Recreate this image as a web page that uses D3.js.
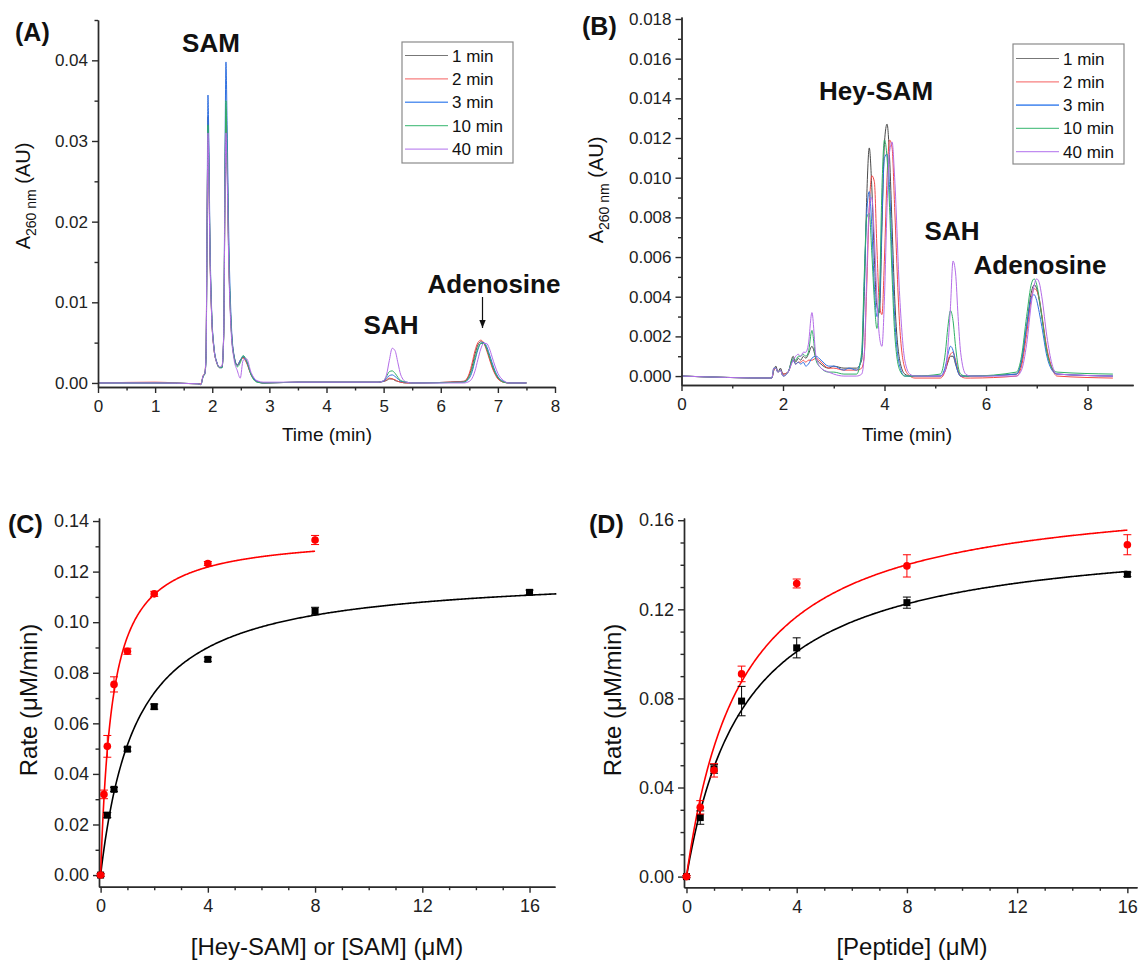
<!DOCTYPE html>
<html><head><meta charset="utf-8">
<script src="https://cdn.jsdelivr.net/npm/d3@7"></script>
<style>body{margin:0;background:#fff}svg{font-family:Arial,"Liberation Sans",sans-serif}</style>
</head><body><svg id="c" width="1140" height="961"></svg>
<script>
// ---------- Panel A: chromatogram (SAM) ----------
const timeA = [0, 1.0, 1.75, 1.8, 1.84, 1.87, 1.89, 1.91, 1.925, 1.94, 1.96, 1.99, 2.03, 2.08, 2.13, 2.17, 2.2, 2.225, 2.24, 2.26, 2.29, 2.33, 2.38, 2.44, 2.49, 2.54, 2.6, 2.68, 2.78, 2.9, 3.5, 4.9, 5.0, 5.05, 5.1, 5.15, 5.2, 5.25, 5.3, 5.4, 5.5, 6.4, 6.5, 6.55, 6.6, 6.65, 6.7, 6.75, 6.8, 6.85, 6.9, 6.95, 7.0, 7.1, 7.2, 7.5];
const a1min = [0, 0, -0.0001, -0.0002, 0.0008, 0.0011, 0.0028, 0.0185, 0.0330, 0.0280, 0.0170, 0.0085, 0.0043, 0.0025, 0.0019, 0.0019, 0.0055, 0.0250, 0.0330, 0.0270, 0.0150, 0.0070, 0.0033, 0.0022, 0.0028, 0.0032, 0.0026, 0.0011, 0.0002, 0.0000, 0.0001,
  0.0001, 0.0002, 0.0003, 0.0005, 0.0005, 0.0003, 0.0002, 0.0001, 0.0000, 0.0000,
  0.0002, 0.0010, 0.0021, 0.0036, 0.0047, 0.0051, 0.0050, 0.0043, 0.0032, 0.0021, 0.0012, 0.0006, 0.0001, 0.0000, 0.0000];
const a2min = [0, 0.0001, -0.0001, -0.0001, 0.0009, 0.0013, 0.0035, 0.0200, 0.0310, 0.0260, 0.0160, 0.0082, 0.0042, 0.0025, 0.0019, 0.0020, 0.0060, 0.0260, 0.0340, 0.0280, 0.0155, 0.0072, 0.0034, 0.0022, 0.0027, 0.0031, 0.0025, 0.0010, 0.0002, 0.0000, 0.0001,
  0.0001, 0.0002, 0.0004, 0.0006, 0.0005, 0.0004, 0.0002, 0.0001, 0.0000, 0.0000,
  0.0002, 0.0012, 0.0025, 0.0040, 0.0050, 0.0053, 0.0050, 0.0041, 0.0030, 0.0019, 0.0011, 0.0005, 0.0001, 0.0000, 0.0000];
const a3min = [0, 0, -0.0001, -0.0002, 0.0008, 0.0012, 0.0030, 0.0210, 0.0357, 0.0300, 0.0180, 0.0090, 0.0045, 0.0026, 0.0019, 0.0019, 0.0060, 0.0300, 0.0398, 0.0320, 0.0180, 0.0080, 0.0035, 0.0022, 0.0028, 0.0033, 0.0027, 0.0011, 0.0002, 0.0000, 0.0001,
  0.0001, 0.0002, 0.0006, 0.0009, 0.0010, 0.0008, 0.0005, 0.0002, 0.0001, 0.0000,
  0.0001, 0.0006, 0.0014, 0.0028, 0.0041, 0.0049, 0.0050, 0.0046, 0.0036, 0.0025, 0.0015, 0.0008, 0.0002, 0.0000, 0.0000];
const a10min = [0, 0, -0.0001, -0.0002, 0.0008, 0.0012, 0.0029, 0.0190, 0.0320, 0.0270, 0.0165, 0.0085, 0.0043, 0.0025, 0.0019, 0.0019, 0.0058, 0.0270, 0.0350, 0.0285, 0.0160, 0.0072, 0.0033, 0.0020, 0.0025, 0.0034, 0.0028, 0.0010, 0.0001, 0.0000, 0.0001,
  0.0001, 0.0003, 0.0008, 0.0014, 0.0015, 0.0012, 0.0007, 0.0003, 0.0001, 0.0000,
  0.0001, 0.0008, 0.0017, 0.0031, 0.0043, 0.0049, 0.0049, 0.0043, 0.0033, 0.0022, 0.0013, 0.0007, 0.0001, 0.0000, 0.0000];
const a40min = [0, 0, -0.0001, -0.0002, 0.0009, 0.0012, 0.0030, 0.0190, 0.0310, 0.0260, 0.0160, 0.0082, 0.0042, 0.0025, 0.0020, 0.0021, 0.0058, 0.0245, 0.0310, 0.0260, 0.0145, 0.0065, 0.0030, 0.0015, 0.0006, 0.0028, 0.0030, 0.0013, 0.0003, 0.0001, 0.0001,
  0.0001, 0.0003, 0.0010, 0.0028, 0.0043, 0.0040, 0.0025, 0.0010, 0.0001, 0.0000,
  0.0000, 0.0002, 0.0006, 0.0015, 0.0029, 0.0042, 0.0049, 0.0049, 0.0043, 0.0032, 0.0021, 0.0012, 0.0003, 0.0000, 0.0000];

// ---------- Panel B: chromatogram (Hey-SAM) ----------
const timeB = [0, 1.78, 1.82, 1.86, 1.9, 1.95, 2.0, 2.1, 2.2, 2.25, 2.3, 2.35, 2.4, 2.45, 2.5, 2.57, 2.65, 2.75, 2.9, 3.0, 3.2, 3.3, 3.45, 3.55, 3.6, 3.65, 3.7, 3.75, 3.8, 3.85, 3.9, 3.95, 4.0, 4.05, 4.1, 4.15, 4.2, 4.3, 4.4, 4.5, 4.6, 5.1, 5.2, 5.25, 5.3, 5.35, 5.4, 5.45, 5.5, 5.6, 5.7, 6.6, 6.7, 6.8, 6.9, 6.95, 7.0, 7.05, 7.1, 7.2, 7.3, 7.4, 8.5];
const b1min = [0.0000, -0.0001, 0.0003, 0.0005, 0.0002, 0.0004, 0.0001, 0.0002, 0.0010, 0.0007,
  0.0009, 0.0008, 0.0010, 0.0009, 0.0011, 0.0015, 0.0009, 0.0006, 0.0004, 0.0005,
  0.0004, 0.0004, 0.0004, 0.0008, 0.0040, 0.0090, 0.0115, 0.0095, 0.0060, 0.0035,
  0.0032, 0.0075, 0.0118, 0.0127, 0.0110, 0.0075, 0.0040, 0.0008, 0.0001, 0.0000,
  0.0000, 0.0000, 0.0003, 0.0007, 0.0010, 0.0010, 0.0006, 0.0002, 0.0000, 0.0000,
  0.0000, 0.0001, 0.0007, 0.0025, 0.0043, 0.0046, 0.0044, 0.0038, 0.0030, 0.0013,
  0.0004, 0.0001, 0.0000];
const b2min = [0.0000, -0.0001, 0.0003, 0.0004, 0.0002, 0.0003, 0.0001, 0.0002, 0.0008, 0.0006,
  0.0007, 0.0007, 0.0008, 0.0007, 0.0008, 0.0008, 0.0009, 0.0007, 0.0004, 0.0004,
  0.0003, 0.0003, 0.0003, 0.0004, 0.0010, 0.0045, 0.0085, 0.0101, 0.0098, 0.0065,
  0.0036, 0.0031, 0.0060, 0.0100, 0.0119, 0.0115, 0.0085, 0.0025, 0.0004, 0.0000,
  -0.0001, -0.0001, 0.0003, 0.0008, 0.0011, 0.0012, 0.0008, 0.0003, 0.0000, -0.0001,
  -0.0001, 0.0000, 0.0005, 0.0021, 0.0040, 0.0044, 0.0043, 0.0039, 0.0031, 0.0014,
  0.0004, 0.0000, -0.0001];
const b3min = [0.0000, -0.0001, 0.0004, 0.0004, 0.0002, 0.0003, 0.0000, 0.0002, 0.0008, 0.0006,
  0.0007, 0.0006, 0.0007, 0.0005, 0.0006, 0.0009, 0.0010, 0.0008, 0.0005, 0.0005,
  0.0003, 0.0004, 0.0003, 0.0010, 0.0045, 0.0082, 0.0093, 0.0075, 0.0045, 0.0030,
  0.0035, 0.0080, 0.0110, 0.0112, 0.0095, 0.0060, 0.0030, 0.0005, 0.0000, 0.0000,
  0.0000, 0.0000, 0.0005, 0.0011, 0.0015, 0.0013, 0.0007, 0.0002, 0.0000, 0.0000,
  0.0000, 0.0001, 0.0008, 0.0025, 0.0040, 0.0041, 0.0038, 0.0032, 0.0025, 0.0010,
  0.0003, 0.0001, 0.0000];
const b10min = [0.0000, -0.0001, 0.0004, 0.0004, 0.0002, 0.0003, 0.0000, 0.0002, 0.0009, 0.0008,
  0.0010, 0.0010, 0.0011, 0.0010, 0.0012, 0.0023, 0.0008, 0.0004, 0.0002, 0.0002,
  0.0001, 0.0001, 0.0001, 0.0012, 0.0050, 0.0080, 0.0082, 0.0062, 0.0038, 0.0024,
  0.0040, 0.0095, 0.0119, 0.0110, 0.0085, 0.0050, 0.0022, 0.0003, 0.0000, 0.0000,
  0.0000, 0.0001, 0.0012, 0.0025, 0.0033, 0.0028, 0.0015, 0.0005, 0.0001, 0.0000,
  0.0000, 0.0002, 0.0010, 0.0030, 0.0047, 0.0049, 0.0046, 0.0039, 0.0030, 0.0012,
  0.0004, 0.0002, 0.0001];
const b40min = [0.0000, -0.0001, 0.0004, 0.0004, 0.0002, 0.0003, 0.0000, 0.0002, 0.0008, 0.0010,
  0.0011, 0.0010, 0.0012, 0.0012, 0.0016, 0.0032, 0.0010, 0.0004, 0.0002, 0.0001,
  0.0000, 0.0000, 0.0000, 0.0001, 0.0010, 0.0050, 0.0085, 0.0090, 0.0070, 0.0040,
  0.0020, 0.0015, 0.0040, 0.0085, 0.0113, 0.0118, 0.0100, 0.0040, 0.0008, 0.0001,
  0.0000, 0.0000, 0.0003, 0.0015, 0.0035, 0.0058, 0.0052, 0.0030, 0.0012, 0.0001,
  0.0000, 0.0000, 0.0003, 0.0016, 0.0038, 0.0046, 0.0049, 0.0047, 0.0040, 0.0020,
  0.0006, 0.0001, 0.0000];

const traceLabels = ["1 min", "2 min", "3 min", "10 min", "40 min"];
const traceColors = ["#4a4a4a", "#f24848", "#2f6fe0", "#2fb066", "#b46ce8"];
const legendColors = ["#777777", "#f77f7f", "#5b95f0", "#5cc48a", "#c08cf0"];

// ---------- Panel C: kinetics vs [Hey-SAM] / [SAM] ----------
const cSamX = [0, 0.25, 0.5, 1, 2, 4, 8, 16];
const cSamY = [0, 0.0237, 0.0339, 0.0498, 0.0666, 0.0853, 0.1044, 0.1118];
const cSamErr = [0.0005, 0.001, 0.0008, 0.0008, 0.001, 0.0008, 0.0015, 0.0009];
const cHeyX = [0, 0.125, 0.25, 0.5, 1, 2, 4, 8];
const cHeyY = [0, 0.0319, 0.0509, 0.0754, 0.0885, 0.1112, 0.1232, 0.1325];
const cHeyErr = [0.0005, 0.0017, 0.0043, 0.003, 0.0012, 0.001, 0.0008, 0.0018];
const cFitSam = [0.1199, 1.33, 17];   // Vmax, Km, x max
const cFitHey = [0.135, 0.433, 8];

// ---------- Panel D: kinetics vs [Peptide] ----------
const dSamX = [0, 0.5, 1, 2, 4, 8, 16];
const dSamY = [0, 0.0265, 0.0484, 0.0788, 0.1027, 0.1230, 0.1357];
const dSamErr = [0.0005, 0.003, 0.002, 0.0066, 0.0045, 0.0025, 0.001];
const dHeyX = [0, 0.5, 1, 2, 4, 8, 16];
const dHeyY = [0, 0.0311, 0.0477, 0.091, 0.1316, 0.1395, 0.149];
const dHeyErr = [0.0005, 0.003, 0.003, 0.0035, 0.002, 0.005, 0.0045];
const dFitSam = [0.1555, 2.16, 16];
const dFitHey = [0.175, 2.0, 16];

// ---------- tick values ----------
const ticksAx = [0,1,2,3,4,5,6,7,8];
const ticksAy = [0,0.01,0.02,0.03,0.04];
const ticksBx = [0,2,4,6,8];
const ticksBy = [0,0.002,0.004,0.006,0.008,0.010,0.012,0.014,0.016,0.018];
const ticksCx = [0,4,8,12,16];
const ticksCy = [0,0.02,0.04,0.06,0.08,0.10,0.12,0.14];
const ticksDx = [0,4,8,12,16];
const ticksDy = [0,0.04,0.08,0.12,0.16];

const svg = d3.select("#c");
const AX = "#2a2a2a";

function drawAxes(x, y, xMaj, xMin, yMaj, yMin, xFmt, yFmt, fs) {
  const yb = y.range()[0], xl = x.range()[0];
  const g = svg.append("g");
  const mk = (sel) => {
    sel.attr("font-size", fs).attr("font-family", "Arial, 'Liberation Sans', sans-serif");
    sel.selectAll("path,line").attr("stroke", AX).attr("stroke-width", 1.4);
    sel.selectAll("text").attr("fill", "#222");
  };
  g.append("g").attr("transform", `translate(0,${yb})`)
    .call(d3.axisBottom(x).tickValues(xMin).tickSize(3.5).tickFormat("").tickSizeOuter(0)).call(mk);
  g.append("g").attr("transform", `translate(0,${yb})`)
    .call(d3.axisBottom(x).tickValues(xMaj).tickSize(6).tickPadding(7).tickFormat(xFmt).tickSizeOuter(0)).call(mk);
  g.append("g").attr("transform", `translate(${xl},0)`)
    .call(d3.axisLeft(y).tickValues(yMin).tickSize(3.5).tickFormat("").tickSizeOuter(0)).call(mk);
  g.append("g").attr("transform", `translate(${xl},0)`)
    .call(d3.axisLeft(y).tickValues(yMaj).tickSize(6).tickPadding(4).tickFormat(yFmt).tickSizeOuter(0)).call(mk);
}

function label(x, y, txt, size, weight, anchor) {
  svg.append("text").attr("x", x).attr("y", y).attr("font-size", size)
    .attr("font-weight", weight || "normal").attr("text-anchor", anchor || "start")
    .attr("fill", "#111").text(txt);
}
function yTitle(cx, cy, size, parts) {
  const t = svg.append("text").attr("transform", `translate(${cx},${cy}) rotate(-90)`)
    .attr("text-anchor", "middle").attr("font-size", size).attr("fill", "#111");
  parts(t);
}
function absTitle(t) {
  t.append("tspan").text("A");
  t.append("tspan").attr("font-size", 14).attr("dy", 6).text("260 nm");
  t.append("tspan").attr("dy", -6).text(" (AU)");
}

function chromatogram(x, y, time, series) {
  const line = d3.line().x((d, i) => x(time[i])).y(d => y(d)).curve(d3.curveMonotoneX);
  series.forEach((s, k) => {
    svg.append("path").datum(s).attr("d", line).attr("fill", "none")
      .attr("stroke", traceColors[k]).attr("stroke-width", 1).attr("stroke-linejoin", "round");
  });
}
function legend(x0, y0, w, h, lineX0, lineX1, textX, rowY0, rowDy) {
  svg.append("rect").attr("x", x0).attr("y", y0).attr("width", w).attr("height", h)
    .attr("fill", "#fff").attr("stroke", "#8a8a8a").attr("stroke-width", 1.2);
  traceLabels.forEach((lab, k) => {
    const yy = rowY0 + k * rowDy;
    svg.append("line").attr("x1", lineX0).attr("x2", lineX1).attr("y1", yy).attr("y2", yy)
      .attr("stroke", legendColors[k]).attr("stroke-width", k === 2 ? 1.6 : 1.2);
    svg.append("text").attr("x", textX).attr("y", yy + 6).attr("font-size", 17).attr("fill", "#111").text(lab);
  });
}

// ===== Panel A =====
const xA = d3.scaleLinear().domain([0, 8]).range([98, 555]);
const yA = d3.scaleLinear().domain([-0.0005, 0.045]).range([387, 20]);
chromatogram(xA, yA, timeA, [a1min, a2min, a3min, a10min, a40min]);
drawAxes(xA, yA, ticksAx, d3.range(0.5, 8, 1), ticksAy, d3.range(0.005, 0.046, 0.01),
  d3.format("d"), d3.format(".2f"), 17);
legend(402, 42, 111, 121, 405, 448, 452, 55.5, 23.4);
label(15, 41, "(A)", 25, "bold");
label(211, 52, "SAM", 26, "bold", "middle");
label(391, 334, "SAH", 26, "bold", "middle");
label(494, 293, "Adenosine", 26, "bold", "middle");
svg.append("defs").append("marker").attr("id", "ah").attr("viewBox", "0 0 10 10")
  .attr("refX", 10).attr("refY", 5).attr("markerWidth", 7).attr("markerHeight", 7).attr("orient", "auto")
  .append("path").attr("d", "M0,1 L10,5 L0,9 Z").attr("fill", "#111");
svg.append("line").attr("x1", 482.5).attr("x2", 482.5).attr("y1", 297).attr("y2", 328)
  .attr("stroke", "#111").attr("stroke-width", 1.2).attr("marker-end", "url(#ah)");
label(327, 441, "Time (min)", 19, "normal", "middle");
yTitle(30, 196, 20, absTitle);

// ===== Panel B =====
const xB = d3.scaleLinear().domain([0, 8.9]).range([681.5, 681.5 + 8.9 * 50.75]);
const yB = d3.scaleLinear().domain([-0.00045, 0.0181]).range([385, 17]);
chromatogram(xB, yB, timeB, [b1min, b2min, b3min, b10min, b40min]);
drawAxes(xB, yB, ticksBx, [1,3,5,7], ticksBy, d3.range(0.001, 0.018, 0.002),
  d3.format("d"), d3.format(".3f"), 17);
legend(1013, 44, 111, 120, 1016, 1059, 1063, 58.5, 23.3);
label(582, 35, "(B)", 25, "bold");
label(876, 100, "Hey-SAM", 26, "bold", "middle");
label(952, 240, "SAH", 26, "bold", "middle");
label(1040, 274, "Adenosine", 26, "bold", "middle");
label(907, 441, "Time (min)", 19, "normal", "middle");
yTitle(603, 190, 20, absTitle);

// ===== Kinetics =====
function kinetics(x, y, sets) {
  sets.forEach(s => {
    const [vmax, km, xmax] = s.fit;
    const xs = d3.range(0, xmax + 1e-9, xmax / 400);
    svg.append("path").datum(xs)
      .attr("d", d3.line().x(v => x(v)).y(v => y(vmax * v / (km + v))))
      .attr("fill", "none").attr("stroke", s.color).attr("stroke-width", 1.6);
  });
  sets.forEach(s => {
    const g = svg.append("g").attr("stroke", s.color).attr("fill", s.color);
    s.xs.forEach((xv, i) => {
      const px = x(xv), lo = y(s.ys[i] - s.err[i]), hi = y(s.ys[i] + s.err[i]);
      g.append("line").attr("x1", px).attr("x2", px).attr("y1", lo).attr("y2", hi).attr("stroke-width", 1);
      g.append("line").attr("x1", px - 4).attr("x2", px + 4).attr("y1", lo).attr("y2", lo).attr("stroke-width", 1);
      g.append("line").attr("x1", px - 4).attr("x2", px + 4).attr("y1", hi).attr("y2", hi).attr("stroke-width", 1);
      if (s.shape === "square") {
        g.append("rect").attr("x", px - 3.5).attr("y", y(s.ys[i]) - 3.5).attr("width", 7).attr("height", 7).attr("stroke", "none");
      } else {
        g.append("circle").attr("cx", px).attr("cy", y(s.ys[i])).attr("r", 3.8).attr("stroke", "none");
      }
    });
  });
}

// ===== Panel C =====
const xC = d3.scaleLinear().domain([-0.06, 16.95]).range([99, 555]);
const yC = d3.scaleLinear().domain([-0.0046, 0.1412]).range([886.7, 518]);
drawAxes(xC, yC, ticksCx, d3.range(1, 17, 1).filter(v => v % 4), ticksCy, d3.range(0.01, 0.14, 0.02),
  d3.format("d"), d3.format(".2f"), 18);
kinetics(xC, yC, [
  {xs: cSamX, ys: cSamY, err: cSamErr, fit: cFitSam, color: "#000", shape: "square"},
  {xs: cHeyX, ys: cHeyY, err: cHeyErr, fit: cFitHey, color: "#ff0000", shape: "circle"}
]);
label(8, 533, "(C)", 25, "bold");
yTitle(37, 700, 24, t => t.text("Rate (\u03BCM/min)"));
label(327, 955, "[Hey-SAM] or [SAM] (\u03BCM)", 24, "normal", "middle");

// ===== Panel D =====
const xD = d3.scaleLinear().domain([-0.09, 16.35]).range([684, 1137]);
const yD = d3.scaleLinear().domain([-0.0048, 0.161]).range([887.3, 518]);
drawAxes(xD, yD, ticksDx, d3.range(1, 17, 1).filter(v => v % 4), ticksDy, d3.range(0.01, 0.161, 0.01).filter(v => Math.abs(v / 0.04 - Math.round(v / 0.04)) > 0.01),
  d3.format("d"), d3.format(".2f"), 18);
kinetics(xD, yD, [
  {xs: dSamX, ys: dSamY, err: dSamErr, fit: dFitSam, color: "#000", shape: "square"},
  {xs: dHeyX, ys: dHeyY, err: dHeyErr, fit: dFitHey, color: "#ff0000", shape: "circle"}
]);
label(589, 533, "(D)", 25, "bold");
yTitle(621, 700, 24, t => t.text("Rate (\u03BCM/min)"));
label(912, 955, "[Peptide] (\u03BCM)", 24, "normal", "middle");
</script></body></html>
